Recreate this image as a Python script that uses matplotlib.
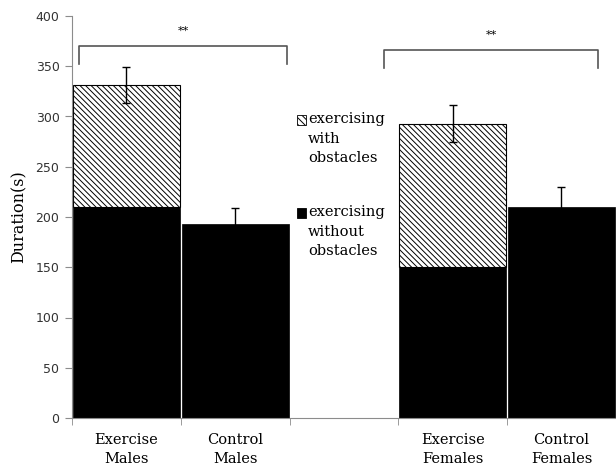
import numpy as np
import matplotlib.pyplot as plt
from matplotlib.patches import Rectangle

groups = ["Exercise\nMales", "Control\nMales", "", "Exercise\nFemales", "Control\nFemales"]
without_obstacles = [210, 193, 0, 150, 210]
with_obstacles = [121, 0, 0, 143, 0]
errors = [18, 16, 0, 18, 20]
sig_pairs = [(0, 1, 370, "**"), (3, 4, 366, "**")]

serif = ["DejaVu Serif"]
grey = "#8c8c8c"
plt.rcParams["hatch.linewidth"] = 0.7

fig = plt.figure(figsize=(6.16, 4.69), dpi=100)
ax = fig.add_axes([72 / 616, 51 / 469, 546 / 616, 402 / 469])

x = np.arange(len(groups))
bottom = np.array(without_obstacles, dtype=float)
top = bottom + np.array(with_obstacles)
show = [i for i, g in enumerate(groups) if g]

ax.bar(x[show], bottom[show], width=0.985, color="black", edgecolor="black", linewidth=0.5)
hatched = [i for i in show if with_obstacles[i] > 0]
ax.bar(x[hatched], np.array(with_obstacles)[hatched], bottom=bottom[hatched], width=0.985,
       color="white", edgecolor="black", linewidth=0.8, hatch="\\\\\\\\\\\\")
ax.errorbar(x[show], top[show], yerr=np.array(errors)[show], fmt="none",
            ecolor="black", elinewidth=1, capsize=3, capthick=1)

# significance brackets
for a, b, h, lab in sig_pairs:
    x0, x1 = a - 0.44, b + 0.48
    if a == 3:
        x0, x1 = a - 0.63, b + 0.34
    ax.plot([x0, x0, x1, x1], [h - 18, h, h, h - 18], color="#555555", lw=1.2, clip_on=False)
    ax.text((x0 + x1) / 2, h + 10, lab, ha="center", va="bottom", fontsize=8, family=serif)

ax.set_xlim(-0.5, 4.52)
ax.set_ylim(0, 400)
ax.set_yticks(range(0, 401, 50))
ax.set_xticks(x)
ax.set_xticklabels(groups, family=serif, fontsize=10.5, linespacing=1.45)
ax.set_xticks(np.arange(-0.5, 5, 1), minor=True)
ax.tick_params(axis="x", which="major", length=0, pad=11)
ax.tick_params(axis="x", which="minor", length=5, color=grey)
ax.tick_params(axis="y", length=5, color=grey, labelsize=9, labelcolor="#333333", pad=4)
for s in ["top", "right"]:
    ax.spines[s].set_visible(False)
for s in ["left", "bottom"]:
    ax.spines[s].set_color(grey)
ax.set_ylabel("Duration(s)", family=serif, fontsize=11.5, labelpad=6)

# legend drawn by hand so the key sits beside the first line
entries = [("exercising\nwith\nobstacles", "white", "\\\\\\\\\\", 0.741),
           ("exercising\nwithout\nobstacles", "black", None, 0.510)]
for text, fc, hatch, yc in entries:
    ax.add_patch(Rectangle((0.412, yc - 0.012), 0.016, 0.024, transform=ax.transAxes,
                           facecolor=fc, edgecolor="black", lw=0.6, hatch=hatch))
    ax.text(0.432, yc + 0.019, text, transform=ax.transAxes, ha="left", va="top",
            family=serif, fontsize=10.5, linespacing=1.5)

fig.savefig("out.png", dpi=100)
